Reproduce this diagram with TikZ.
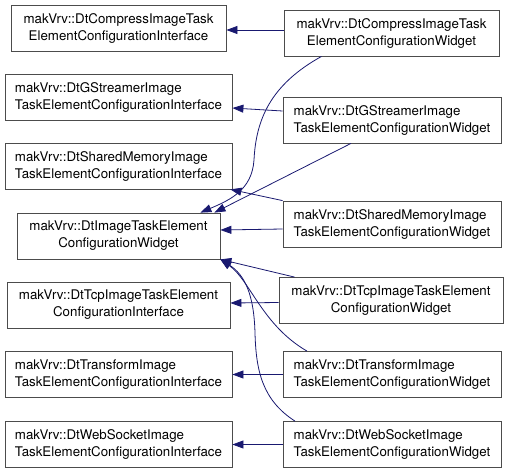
\documentclass[tikz,border=0pt]{standalone}
\usepackage{fontspec}
\setmainfont{TeX Gyre Heros}
\usetikzlibrary{arrows.meta, positioning}
\definecolor{midblue}{HTML}{191970}

\begin{document}
\begin{tikzpicture}[x=1pt, y=-1pt,
    classbox/.style={draw=black!70, line width=0.8pt, minimum height=46pt, inner sep=0pt, font=\fontsize{13.3}{17}\selectfont},
    ifbox/.style={classbox, minimum width=227pt, align=left},
    wgbox/.style={classbox, minimum width=218pt, align=left},
    inh/.style={-{Triangle[length=11pt, width=8pt]}, midblue, line width=0.8pt}
]
\useasboundingbox (0,0) rectangle (509,472);

% Base classes (left column)
\node[classbox, align=center, minimum width=215pt] (cmpif) at (118.5,28) {makVrv::DtCompressImageTask\\ElementConfigurationInterface};
\node[ifbox] (gstif) at (118.5,97) {makVrv::DtGStreamerImage\\TaskElementConfigurationInterface};
\node[ifbox] (shmif) at (118.5,166) {makVrv::DtSharedMemoryImage\\TaskElementConfigurationInterface};
\node[classbox, align=center, minimum width=203pt] (imgwg) at (118.5,236) {makVrv::DtImageTaskElement\\ConfigurationWidget};
\node[classbox, align=center, minimum width=223pt] (tcpif) at (118.5,305) {makVrv::DtTcpImageTaskElement\\ConfigurationInterface};
\node[ifbox] (trfif) at (118.5,374.5) {makVrv::DtTransformImage\\TaskElementConfigurationInterface};
\node[ifbox] (wsif) at (118.5,444.5) {makVrv::DtWebSocketImage\\TaskElementConfigurationInterface};

% Derived widgets (right column)
\node[classbox, align=center, minimum width=215pt] (cmpwg) at (391.5,33) {makVrv::DtCompressImageTask\\ElementConfigurationWidget};
\node[wgbox] (gstwg) at (392,120) {makVrv::DtGStreamerImage\\TaskElementConfigurationWidget};
\node[wgbox] (shmwg) at (392,224) {makVrv::DtSharedMemoryImage\\TaskElementConfigurationWidget};
\node[classbox, align=center, minimum width=224pt] (tcpwg) at (391,300.5) {makVrv::DtTcpImageTaskElement\\ConfigurationWidget};
\node[wgbox] (trfwg) at (392,374.5) {makVrv::DtTransformImage\\TaskElementConfigurationWidget};
\node[wgbox] (wswg) at (392,444.5) {makVrv::DtWebSocketImage\\TaskElementConfigurationWidget};

% Inheritance to the interfaces
\draw[inh] ([yshift=3pt]cmpwg.west) -- ([yshift=-2pt]cmpif.east);
\draw[inh] ([yshift=9pt]gstwg.west) -- ([yshift=-11pt]gstif.east);
\draw[inh] (shmwg.north west) -- ([xshift=-2pt]shmif.south east);
\draw[inh] ([yshift=-2pt]tcpwg.west) -- ([yshift=2pt]tcpif.east);
\draw[inh] (trfwg.west) -- (trfif.east);
\draw[inh] (wswg.west) -- (wsif.east);

% Inheritance to the common widget
\draw[inh] ([xshift=-70pt]cmpwg.south) .. controls (270,85) and (256,120) .. (254,160)
    .. controls (252,190) and (230,200) .. ([xshift=-20pt]imgwg.north east);
\draw[inh] ([xshift=-41pt]gstwg.south) -- ([xshift=-6pt]imgwg.north east);
\draw[inh] ([yshift=-5pt]shmwg.west) -- ([yshift=6pt]imgwg.east);
\draw[inh] ([xshift=16pt]tcpwg.north west) -- (imgwg.south east);
\draw[inh] ([xshift=-85pt]trfwg.north) .. controls (262,325) and (250,280) .. (imgwg.south east);
\draw[inh] ([xshift=-97pt]wswg.north) .. controls (262,400) and (256,370) .. (255,333)
    .. controls (254,295) and (245,275) .. (imgwg.south east);
\end{tikzpicture}
\end{document}
